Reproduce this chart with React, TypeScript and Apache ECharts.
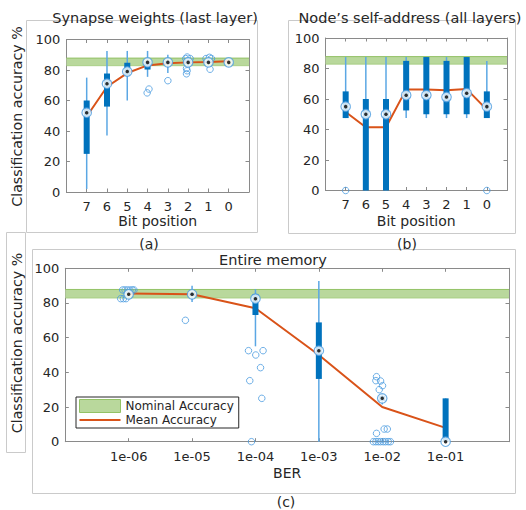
import React, { useEffect, useRef } from "react";
import * as echarts from "echarts";

// ---------- data ----------
const BIT_POS = [7, 6, 5, 4, 3, 2, 1, 0];
const BER = [1e-6, 1e-5, 1e-4, 1e-3, 1e-2, 1e-1];
const BER_LABELS = ["1e-06", "1e-05", "1e-04", "1e-03", "1e-02", "1e-01"];
const Y_MIN = 0;
const Y_MAX = 100;
const Y_STEP = 20;
const NOMINAL = [82.8, 87.8];

// box stats: [whiskerLow, q1, median, q3, whiskerHigh]
const BOX_A = [
  [2, 25, 52, 60, 75],
  [37, 56, 71, 77.7, 92.5],
  [60, 76.6, 79, 84.7, 92.5],
  [75.5, 80.3, 85, 85.7, 92.5],
  [78, 84, 85, 86, 90],
  [82.5, 84, 85, 86.5, 88],
  [84, 84.5, 85, 86, 87],
  [85, 85, 85, 85, 85],
];
const MEAN_A = [49.5, 69, 78, 83, 84.5, 85, 85.3, 85.7];
// outliers: [bit index, value, jitter]
const OUT_A = [
  [3, 67.5, -0.07],
  [3, 65, 0.02],
  [4, 73, 0],
  [5, 88.5, 0.05],
  [5, 87.5, -0.1],
  [5, 87.5, 0.12],
  [5, 81, 0.08],
  [5, 79.5, 0.05],
  [5, 77.5, 0.08],
  [6, 88.3, -0.05],
  [6, 87.5, 0.12],
  [6, 87.5, -0.15],
  [6, 80.5, -0.08],
];

const BOX_B = [
  [47.5, 47.5, 55, 65, 87.5],
  [0, 0, 50, 60, 87.5],
  [0, 0, 50, 60, 87.5],
  [47.5, 52.5, 62.5, 85, 87.5],
  [47.5, 50, 62.5, 87.5, 87.5],
  [47.5, 50, 61.3, 85, 87.5],
  [47.5, 50, 63.8, 87.5, 87.5],
  [47.5, 47.5, 55, 65, 85],
];
const MEAN_B = [51.5, 41.5, 41.5, 66.3, 66.3, 65.8, 66.5, 53];
const OUT_B = [
  [0, 0, 0],
  [7, 0, 0],
];

const BOX_C = [
  [85, 85, 85, 85, 85],
  [80.5, 84, 85, 86, 90],
  [55, 73, 82.5, 85, 88],
  [0, 36.2, 52.5, 68.8, 92.7],
  [21.5, 23.5, 25, 26.5, 27.5],
  [0, 0, 0, 25, 25],
];
const MEAN_C = [85.5, 85, 77, 50, 20, 8];
// outliers: [BER index, value, jitter in decades]
const OUT_C = [
  [0, 87.5, -0.095],
  [0, 87.5, -0.058],
  [0, 87.5, -0.02],
  [0, 87.5, 0.02],
  [0, 87.5, 0.058],
  [0, 87.5, 0.084],
  [0, 82.5, -0.126],
  [0, 82.5, -0.084],
  [0, 82.5, -0.042],
  [1, 70, -0.105],
  [2, 52.5, -0.11],
  [2, 50, 0.005],
  [2, 52.5, 0.12],
  [2, 42.7, 0.08],
  [2, 35.2, -0.09],
  [2, 25, 0.1],
  [2, 0, -0.063],
  [4, 37.5, -0.09],
  [4, 35.2, -0.1],
  [4, 35, -0.026],
  [4, 32.3, 0.005],
  [4, 30, -0.047],
  [4, 7.3, 0.03],
  [4, 7.3, 0.08],
  [4, 4.8, -0.09],
  [4, 0, -0.14],
  [4, 0, -0.1],
  [4, 0, -0.063],
  [4, 0, -0.026],
  [4, 0, 0.016],
  [4, 0, 0.053],
  [4, 0, 0.095],
  [4, 0, 0.13],
];

// ---------- style ----------
const FONT = "DejaVu Sans";
const TXT = "#262626";
const AXIS = "#8a8a8a";
const FRAME = "#cacaca";
const BOX = "#0072BD";
const WHISKER = "#5ba7e4";
const OUTLIER = "#4a9be0";
const MEAN = "#D95319";
const BAND_FILL = "#b9d89c";
const BAND_EDGE = "#93c266";

const boxRender = (params: any, api: any) => {
  const x = api.value(0);
  const lo = api.coord([x, api.value(1)]);
  const q1 = api.coord([x, api.value(2)]);
  const q3 = api.coord([x, api.value(4)]);
  const hi = api.coord([x, api.value(5)]);
  const cx = lo[0];
  const children: any[] = [];
  if (lo[1] - hi[1] > 0.5) {
    children.push({
      type: "line",
      shape: { x1: cx, y1: hi[1], x2: cx, y2: lo[1] },
      style: { stroke: WHISKER, lineWidth: 1.5 },
    });
  }
  if (q1[1] - q3[1] > 0.5) {
    children.push({
      type: "rect",
      shape: { x: cx - 3, y: q3[1], width: 6, height: q1[1] - q3[1] },
      style: { fill: BOX },
    });
  }
  return { type: "group", children };
};

const bandRender = (params: any, api: any) => {
  const cs = params.coordSys;
  const x = api.value(0);
  const bot = api.coord([x, api.value(1)])[1];
  const top = api.coord([x, api.value(2)])[1];
  return {
    type: "group",
    children: [
      {
        type: "rect",
        shape: { x: cs.x, y: top, width: cs.width, height: bot - top },
        style: { fill: BAND_FILL },
      },
      {
        type: "line",
        shape: { x1: cs.x, y1: top, x2: cs.x + cs.width, y2: top },
        style: { stroke: BAND_EDGE, lineWidth: 1 },
      },
      {
        type: "line",
        shape: { x1: cs.x, y1: bot, x2: cs.x + cs.width, y2: bot },
        style: { stroke: BAND_EDGE, lineWidth: 0.6 },
      },
    ],
  };
};

const tickLabel = { fontSize: 13, color: TXT, fontFamily: FONT };

const bitFormatter = (v: number) => (BIT_POS.includes(v) ? String(v) : "");
const berFormatter = (v: number) => {
  const i = BER.findIndex((b) => Math.abs(Math.log10(b) - Math.log10(v)) < 1e-6);
  return i >= 0 ? BER_LABELS[i] : "";
};

const axisCommon = (gridIndex: number, position: string) => ({
  gridIndex,
  position,
  axisLine: { show: true, onZero: false, lineStyle: { color: AXIS, width: 1 } },
  axisTick: { show: true, inside: true, length: 3.5, lineStyle: { color: AXIS } },
  splitLine: { show: false },
});

const bitAxis = (gi: number, position: string, withLabels: boolean, margin: number, nameGap: number) => ({
  ...axisCommon(gi, position),
  type: "value",
  min: -1,
  max: 8,
  interval: 1,
  inverse: true,
  axisLabel: { show: withLabels, margin, ...tickLabel, formatter: bitFormatter },
  name: withLabels ? "Bit position" : "",
  nameLocation: "middle",
  nameGap,
  nameTextStyle: { fontSize: 14, color: TXT, fontFamily: FONT },
});

const berAxis = (gi: number, position: string, withLabels: boolean) => ({
  ...axisCommon(gi, position),
  type: "log",
  logBase: 10,
  min: BER[0] / 10,
  max: BER[BER.length - 1] * 10,
  interval: 1,
  axisLabel: { show: withLabels, margin: 8, ...tickLabel, formatter: berFormatter },
  name: withLabels ? "BER" : "",
  nameLocation: "middle",
  nameGap: 24,
  nameTextStyle: { fontSize: 14, color: TXT, fontFamily: FONT },
});

const accAxis = (gi: number, position: string, withLabels: boolean) => ({
  ...axisCommon(gi, position),
  type: "value",
  min: Y_MIN,
  max: Y_MAX,
  interval: Y_STEP,
  axisLabel: { show: withLabels, margin: 6, ...tickLabel },
});

function panelSeries(
  gi: number,
  xs: number[],
  boxes: number[][],
  means: number[],
  outliers: number[][],
  jitterX: (x: number, j: number) => number
): any[] {
  return [
    {
      name: "Nominal Accuracy",
      type: "custom",
      xAxisIndex: gi,
      yAxisIndex: gi,
      renderItem: bandRender,
      encode: { x: 0, y: [1, 2] },
      data: [[xs[0], NOMINAL[0], NOMINAL[1]]],
      itemStyle: { color: BAND_FILL },
      z: 1,
      silent: true,
    },
    {
      name: "Mean Accuracy",
      type: "line",
      xAxisIndex: gi,
      yAxisIndex: gi,
      data: means.map((m, i) => [xs[i], m]),
      symbol: "none",
      showSymbol: false,
      lineStyle: { color: MEAN, width: 2 },
      itemStyle: { color: MEAN },
      z: 2,
      silent: true,
    },
    {
      name: "box" + gi,
      type: "custom",
      xAxisIndex: gi,
      yAxisIndex: gi,
      renderItem: boxRender,
      encode: { x: 0, y: [1, 2, 3, 4, 5] },
      data: boxes.map((b, i) => [xs[i], ...b]),
      z: 3,
      silent: true,
    },
    {
      name: "out" + gi,
      type: "scatter",
      xAxisIndex: gi,
      yAxisIndex: gi,
      data: outliers.map((o) => [jitterX(xs[o[0]], o[2]), o[1]]),
      symbol: "circle",
      symbolSize: 6.5,
      itemStyle: { color: "rgba(255,255,255,0)", borderColor: OUTLIER, borderWidth: 1 },
      z: 4,
      silent: true,
    },
    {
      name: "medRing" + gi,
      type: "scatter",
      xAxisIndex: gi,
      yAxisIndex: gi,
      data: boxes.map((b, i) => [xs[i], b[2]]),
      symbol: "circle",
      symbolSize: 9.5,
      itemStyle: { color: "#ffffff", borderColor: OUTLIER, borderWidth: 1.2 },
      z: 5,
      silent: true,
    },
    {
      name: "medDot" + gi,
      type: "scatter",
      xAxisIndex: gi,
      yAxisIndex: gi,
      data: boxes.map((b, i) => [xs[i], b[2]]),
      symbol: "circle",
      symbolSize: 3.5,
      itemStyle: { color: "#000000" },
      z: 6,
      silent: true,
    },
  ];
}

const text = (t: string, x: number, y: number, size = 14, rotation = 0) => ({
  type: "text",
  x,
  y,
  rotation,
  z: 10,
  style: {
    text: t,
    fontSize: size,
    fontFamily: FONT,
    fill: TXT,
    align: "center",
    verticalAlign: "middle",
  },
});

const frame = (x: number, y: number, w: number, h: number) => ({
  type: "rect",
  shape: { x, y, width: w, height: h },
  style: { fill: "none", stroke: FRAME, lineWidth: 1 },
  z: 0,
  silent: true,
});

export default function App() {
  const ref = useRef<HTMLDivElement>(null);
  useEffect(() => {
    if (!ref.current) return;
    const chart = echarts.init(ref.current, null, { renderer: "svg" });
    const option: any = {
      animation: false,
      backgroundColor: "#ffffff",
      textStyle: { fontFamily: FONT },
      grid: [
        { left: 66.4, top: 39.5, width: 182.6, height: 152.5 },
        { left: 325.5, top: 38, width: 181.5, height: 152.5 },
        { left: 65.3, top: 268.3, width: 443.7, height: 173.4 },
      ],
      xAxis: [
        bitAxis(0, "bottom", true, 8, 21),
        bitAxis(1, "bottom", true, 7, 23.5),
        berAxis(2, "bottom", true),
        bitAxis(0, "top", false, 8, 0),
        bitAxis(1, "top", false, 8, 0),
        berAxis(2, "top", false),
      ],
      yAxis: [
        accAxis(0, "left", true),
        accAxis(1, "left", true),
        accAxis(2, "left", true),
        accAxis(0, "right", false),
        accAxis(1, "right", false),
        accAxis(2, "right", false),
      ],
      legend: {
        left: 76,
        top: 397,
        orient: "vertical",
        itemWidth: 41,
        itemHeight: 13,
        itemGap: 1,
        padding: [2, 5, 2, 3],
        borderColor: TXT,
        borderWidth: 1,
        borderRadius: 0,
        backgroundColor: "#ffffff",
        selectedMode: false,
        textStyle: { fontSize: 12, color: TXT, fontFamily: FONT },
        data: [
          {
            name: "Nominal Accuracy",
            icon: "rect",
            itemStyle: { color: BAND_FILL, borderColor: BAND_EDGE, borderWidth: 1 },
          },
          {
            name: "Mean Accuracy",
            icon: "path://M0,0H41V2H0Z",
            itemStyle: { color: MEAN, borderWidth: 0 },
          },
        ],
      },
      graphic: [
        frame(26.5, 20.5, 231, 212),
        frame(288.5, 20.5, 227, 213),
        frame(32.5, 249.5, 483, 244),
        frame(6.5, 232.5, 19, 220),
        text("Synapse weights (last layer)", 155, 18, 14.5),
        text("Node\u2019s self-address (all layers)", 410, 18, 14.5),
        text("Entire memory", 273, 260, 14.5),
        text("(a)", 149, 244),
        text("(b)", 407, 244),
        text("(c)", 286, 502),
        text("Classification accuracy %", 17, 116.5, 14.2, Math.PI / 2),
        text("Classification accuracy %", 17, 343, 14.2, Math.PI / 2),
      ],
      series: [
        ...panelSeries(0, BIT_POS, BOX_A, MEAN_A, OUT_A, (x, j) => x + j),
        ...panelSeries(1, BIT_POS, BOX_B, MEAN_B, OUT_B, (x, j) => x + j),
        ...panelSeries(2, BER, BOX_C, MEAN_C, OUT_C, (x, j) => x * Math.pow(10, j)),
      ],
    };
    chart.setOption(option);
    return () => chart.dispose();
  }, []);
  return (
    <div
      ref={ref}
      style={{ position: "fixed", left: 0, top: 0, width: 526, height: 510, background: "#fff" }}
    />
  );
}
